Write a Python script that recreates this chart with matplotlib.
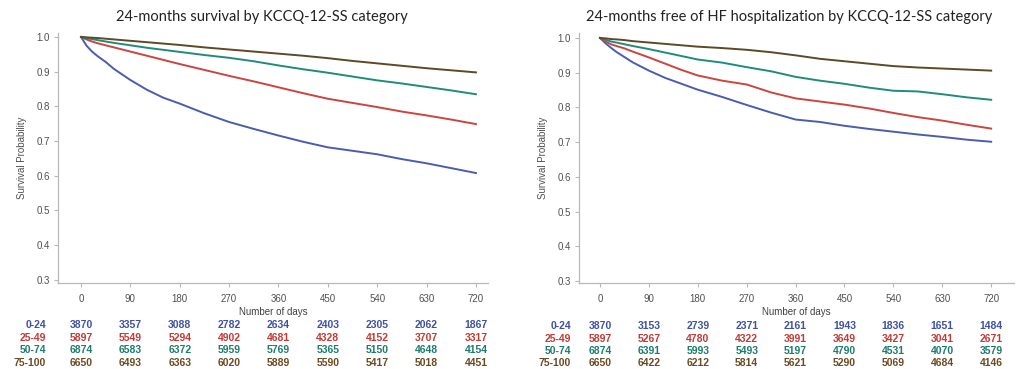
import matplotlib
matplotlib.use("Agg")
import matplotlib.pyplot as plt
from matplotlib.transforms import blended_transform_factory

# ---------------- data ----------------
days = [0, 10, 20, 30, 45, 60, 90, 120, 150, 180, 225, 270, 315, 360, 405, 450, 495, 540, 585, 630, 675, 720]

categories = ["0-24", "25-49", "50-74", "75-100"]

surv_0_24 = [1.0, 0.975, 0.958, 0.945, 0.928, 0.908, 0.876, 0.848, 0.825, 0.808, 0.78, 0.755, 0.735, 0.716, 0.698, 0.682, 0.672, 0.662, 0.648, 0.636, 0.622, 0.608]
surv_25_49 = [1.0, 0.993, 0.987, 0.982, 0.976, 0.970, 0.958, 0.946, 0.934, 0.922, 0.905, 0.888, 0.872, 0.855, 0.838, 0.822, 0.81, 0.798, 0.785, 0.774, 0.762, 0.749]
surv_50_74 = [1.0, 0.997, 0.994, 0.991, 0.987, 0.983, 0.976, 0.969, 0.963, 0.957, 0.948, 0.940, 0.930, 0.918, 0.907, 0.897, 0.886, 0.875, 0.866, 0.856, 0.846, 0.835]
surv_75_100 = [1.0, 0.999, 0.998, 0.997, 0.995, 0.993, 0.989, 0.985, 0.981, 0.977, 0.970, 0.964, 0.958, 0.952, 0.946, 0.939, 0.931, 0.924, 0.917, 0.910, 0.904, 0.898]

hf_0_24 = [1.0, 0.985, 0.972, 0.96, 0.945, 0.93, 0.906, 0.885, 0.868, 0.851, 0.83, 0.807, 0.785, 0.765, 0.758, 0.747, 0.738, 0.73, 0.722, 0.715, 0.707, 0.701]
hf_25_49 = [1.0, 0.99, 0.982, 0.977, 0.97, 0.961, 0.944, 0.926, 0.908, 0.892, 0.877, 0.866, 0.843, 0.826, 0.817, 0.808, 0.797, 0.784, 0.772, 0.762, 0.75, 0.739]
hf_50_74 = [1.0, 0.995, 0.99, 0.987, 0.982, 0.977, 0.968, 0.958, 0.948, 0.938, 0.929, 0.916, 0.904, 0.888, 0.877, 0.868, 0.857, 0.848, 0.846, 0.838, 0.829, 0.822]
hf_75_100 = [1.0, 0.999, 0.997, 0.996, 0.994, 0.991, 0.987, 0.983, 0.979, 0.975, 0.971, 0.966, 0.959, 0.950, 0.940, 0.933, 0.926, 0.919, 0.915, 0.912, 0.909, 0.906]

risk_days = [0, 90, 180, 270, 360, 450, 540, 630, 720]

surv_risk_0_24 = [3870, 3357, 3088, 2782, 2634, 2403, 2305, 2062, 1867]
surv_risk_25_49 = [5897, 5549, 5294, 4902, 4681, 4328, 4152, 3707, 3317]
surv_risk_50_74 = [6874, 6583, 6372, 5959, 5769, 5365, 5150, 4648, 4154]
surv_risk_75_100 = [6650, 6493, 6363, 6020, 5889, 5590, 5417, 5018, 4451]

hf_risk_0_24 = [3870, 3153, 2739, 2371, 2161, 1943, 1836, 1651, 1484]
hf_risk_25_49 = [5897, 5267, 4780, 4322, 3991, 3649, 3427, 3041, 2671]
hf_risk_50_74 = [6874, 6391, 5993, 5493, 5197, 4790, 4531, 4070, 3579]
hf_risk_75_100 = [6650, 6422, 6212, 5814, 5621, 5290, 5069, 4684, 4146]

yticks = [0.3, 0.4, 0.5, 0.6, 0.7, 0.8, 0.9, 1.0]

titles = ["24-months survival by KCCQ-12-SS category",
          "24-months free of HF hospitalization by KCCQ-12-SS category"]

# ---------------- style ----------------
line_colors = ["#4b5cb0", "#cc4440", "#1f8c7a", "#5e4826"]
text_colors = ["#3f51a3", "#c23b36", "#1d7d6c", "#6a4b22"]
W, H = 1024, 369

fig = plt.figure(figsize=(W / 100, H / 100), dpi=100)
fig.patch.set_facecolor("white")

panels = [
    dict(box=(58, 33, 488, 283), xlim=(-42, 742), ylim=(0.291, 1.0115),
         curves=[surv_0_24, surv_25_49, surv_50_74, surv_75_100],
         risk=[surv_risk_0_24, surv_risk_25_49, surv_risk_50_74, surv_risk_75_100],
         title_x=262, label_x=46, ylab_x=22, rows=[325, 337.7, 350, 362.7]),
    dict(box=(579, 33, 1014, 283), xlim=(-38.7, 762), ylim=(0.294, 1.0144),
         curves=[hf_0_24, hf_25_49, hf_50_74, hf_75_100],
         risk=[hf_risk_0_24, hf_risk_25_49, hf_risk_50_74, hf_risk_75_100],
         title_x=789, label_x=571, ylab_x=543, rows=[326, 338.5, 350.7, 363]),
]

tabfont = "Liberation Sans"

for i, p in enumerate(panels):
    x0, y0, x1, y1 = p["box"]
    ax = fig.add_axes([x0 / W, 1 - y1 / H, (x1 - x0) / W, (y1 - y0) / H])
    for vals, c in zip(p["curves"], line_colors):
        ax.plot(days, vals, color=c, lw=1.4, solid_joinstyle="round")
    ax.set_xlim(*p["xlim"])
    ax.set_ylim(*p["ylim"])
    ax.set_xticks(risk_days)
    ax.set_yticks(yticks)
    ax.set_yticklabels([f"{v:.1f}" for v in yticks])
    for s in ["top", "right"]:
        ax.spines[s].set_visible(False)
    for s in ["left", "bottom"]:
        ax.spines[s].set_color("#b8b8b8")
        ax.spines[s].set_linewidth(0.9)
    ax.tick_params(axis="both", length=3, width=0.8, color="#b8b8b8",
                   labelsize=7, labelcolor="#505050", pad=3,
                   labelfontfamily="Liberation Sans")
    ax.tick_params(axis="x", pad=5)
    ax.set_xlabel("Number of days", fontsize=7, color="#404040",
                  family="Liberation Sans", labelpad=2)
    fig.text(p["ylab_x"] / W, 1 - 158 / H, "Survival Probability", rotation=90,
             ha="center", va="center", fontsize=7, color="#505050",
             family="Liberation Sans")
    fig.text(p["title_x"] / W, 1 - 17 / H, titles[i], ha="center", va="center",
             fontsize=10.5, color="#222222", family="Lato")

    trans = blended_transform_factory(ax.transData, fig.transFigure)
    for r, (cat, counts) in enumerate(zip(categories, p["risk"])):
        yy = 1 - p["rows"][r] / H
        fig.text(p["label_x"] / W, yy, cat, ha="right", va="center",
                 fontsize=7.5, color=text_colors[r], family=tabfont,
                 fontweight="bold")
        for d, n in zip(risk_days, counts):
            ax.text(d, yy, str(n), transform=trans, ha="center", va="center",
                    fontsize=7.5, color=text_colors[r], family=tabfont,
                    fontweight="bold", clip_on=False)

fig.savefig("out.png", dpi=100, facecolor="white")
